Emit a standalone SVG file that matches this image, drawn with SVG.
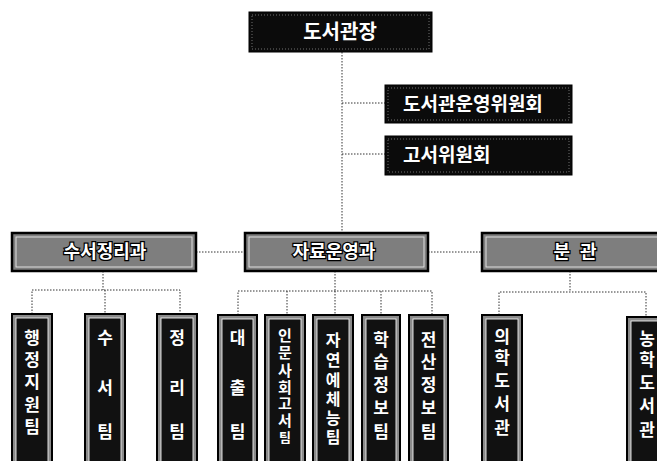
<svg xmlns="http://www.w3.org/2000/svg" width="657" height="461" viewBox="0 0 657 461">
<style>
.conn{stroke:#333;stroke-width:1;stroke-dasharray:1.5 1.5;fill:none}
.topbox{fill:#0b0b0b;stroke:#000;stroke-width:1}
.topin{fill:none;stroke:#8a8a8a;stroke-width:0.8;stroke-dasharray:1 2}
.toptxt{font-family:"Liberation Sans","Noto Sans CJK KR",sans-serif;font-weight:700;fill:#fff}
.midout{fill:#7e7e7e;stroke:#000;stroke-width:2.5}
.midin{fill:none;stroke:#e8e8e8;stroke-width:0.9}
.midtxt{font-family:"Liberation Sans","Noto Sans CJK KR",sans-serif;font-weight:700;font-size:18px;fill:#fff;stroke:#000;stroke-width:2.5;paint-order:stroke;text-anchor:middle}
.botout{fill:#8a8a8a;stroke:#000;stroke-width:2}
.botin{fill:#111;stroke:#f0f0f0;stroke-width:0.9}
.bottxt{font-family:"Liberation Sans","Noto Sans CJK KR",sans-serif;font-weight:700;fill:#fff;text-anchor:middle}
</style>

<g id="connectors">
  <line class="conn" x1="342" y1="52" x2="342" y2="233"/>
  <line class="conn" x1="342" y1="103" x2="385" y2="103"/>
  <line class="conn" x1="342" y1="154" x2="385" y2="154"/>
  <line class="conn" x1="196" y1="252" x2="245" y2="252"/>
  <line class="conn" x1="428" y1="252" x2="482" y2="252"/>
  <line class="conn" x1="103" y1="271" x2="103" y2="290"/>
  <polyline class="conn" points="32,314 32,290 180,290 180,314"/>
  <line class="conn" x1="105" y1="290" x2="105" y2="314"/>
  <line class="conn" x1="335" y1="271" x2="335" y2="291"/>
  <polyline class="conn" points="238,315 238,291 432,291 432,315"/>
  <line class="conn" x1="287" y1="291" x2="287" y2="315"/>
  <line class="conn" x1="335" y1="291" x2="335" y2="315"/>
  <line class="conn" x1="381" y1="291" x2="381" y2="315"/>
  <line class="conn" x1="570" y1="271" x2="570" y2="292"/>
  <polyline class="conn" points="499,315 499,292 646,292 646,317"/>
</g>

<g id="node-director">
  <rect class="topbox" x="249" y="12" width="183" height="40"/>
  <rect class="topin" x="252" y="15" width="177" height="34"/>
  <text class="toptxt" x="340" y="39" font-size="20" text-anchor="middle">도서관장</text>
</g>

<g id="node-committee1">
  <rect class="topbox" x="385" y="85" width="187" height="38"/>
  <rect class="topin" x="388" y="88" width="181" height="32"/>
  <text class="toptxt" x="403" y="111" font-size="19">도서관운영위원회</text>
</g>

<g id="node-committee2">
  <rect class="topbox" x="385" y="136" width="187" height="39"/>
  <rect class="topin" x="388" y="139" width="181" height="33"/>
  <text class="toptxt" x="403" y="162" font-size="19">고서위원회</text>
</g>

<g id="node-acq">
  <rect class="midout" x="12" y="233" width="184" height="38"/>
  <rect class="midin" x="16" y="237" width="176" height="30"/>
  <text class="midtxt" x="105" y="258">수서정리과</text>
</g>

<g id="node-ops">
  <rect class="midout" x="245" y="233" width="183" height="38"/>
  <rect class="midin" x="249" y="237" width="175" height="30"/>
  <text class="midtxt" x="334" y="258">자료운영과</text>
</g>

<g id="node-branch">
  <rect class="midout" x="482" y="233" width="185" height="38"/>
  <rect class="midin" x="486" y="237" width="177" height="30"/>
  <text class="midtxt" x="575" y="258" xml:space="preserve">분  관</text>
</g>

<g id="node-admin">
  <rect class="botout" x="12" y="314" width="40" height="155"/>
  <rect class="botin" x="16" y="318" width="32" height="150"/>
  <text class="bottxt" font-size="17"><tspan x="32" y="344">행</tspan><tspan x="32" y="366">정</tspan><tspan x="32" y="388">지</tspan><tspan x="32" y="411">원</tspan><tspan x="32" y="433">팀</tspan></text>
</g>

<g id="node-acqteam">
  <rect class="botout" x="85" y="314" width="40" height="155"/>
  <rect class="botin" x="89" y="318" width="32" height="150"/>
  <text class="bottxt" font-size="17"><tspan x="105" y="344">수</tspan><tspan x="105" y="394">서</tspan><tspan x="105" y="438">팀</tspan></text>
</g>

<g id="node-catteam">
  <rect class="botout" x="157" y="314" width="40" height="155"/>
  <rect class="botin" x="161" y="318" width="32" height="150"/>
  <text class="bottxt" font-size="17"><tspan x="177" y="344">정</tspan><tspan x="177" y="394">리</tspan><tspan x="177" y="438">팀</tspan></text>
</g>

<g id="node-loan">
  <rect class="botout" x="218" y="315" width="39" height="155"/>
  <rect class="botin" x="222" y="319" width="31" height="150"/>
  <text class="bottxt" font-size="17"><tspan x="237.5" y="344">대</tspan><tspan x="237.5" y="394">출</tspan><tspan x="237.5" y="438">팀</tspan></text>
</g>

<g id="node-humanities">
  <rect class="botout" x="265" y="315" width="40" height="155"/>
  <rect class="botin" x="269" y="319" width="32" height="150"/>
  <text class="bottxt" font-size="15"><tspan x="285" y="341">인</tspan><tspan x="285" y="358">문</tspan><tspan x="285" y="376">사</tspan><tspan x="285" y="393">회</tspan><tspan x="285" y="409">고</tspan><tspan x="285" y="426">서</tspan><tspan x="285" y="442" font-size="13">팀</tspan></text>
</g>

<g id="node-science">
  <rect class="botout" x="313" y="315" width="40" height="155"/>
  <rect class="botin" x="317" y="319" width="32" height="150"/>
  <text class="bottxt" font-size="16"><tspan x="333" y="346">자</tspan><tspan x="333" y="366">연</tspan><tspan x="333" y="386">예</tspan><tspan x="333" y="405">체</tspan><tspan x="333" y="424">능</tspan><tspan x="333" y="443">팀</tspan></text>
</g>

<g id="node-learning">
  <rect class="botout" x="362" y="315" width="38" height="155"/>
  <rect class="botin" x="366" y="319" width="30" height="150"/>
  <text class="bottxt" font-size="17"><tspan x="381" y="346">학</tspan><tspan x="381" y="368">습</tspan><tspan x="381" y="391">정</tspan><tspan x="381" y="414">보</tspan><tspan x="381" y="438">팀</tspan></text>
</g>

<g id="node-it">
  <rect class="botout" x="409" y="315" width="39" height="155"/>
  <rect class="botin" x="413" y="319" width="31" height="150"/>
  <text class="bottxt" font-size="17"><tspan x="428.5" y="346">전</tspan><tspan x="428.5" y="368">산</tspan><tspan x="428.5" y="391">정</tspan><tspan x="428.5" y="414">보</tspan><tspan x="428.5" y="438">팀</tspan></text>
</g>

<g id="node-medlib">
  <rect class="botout" x="482" y="315" width="40" height="155"/>
  <rect class="botin" x="486" y="319" width="32" height="150"/>
  <text class="bottxt" font-size="17"><tspan x="502" y="343">의</tspan><tspan x="502" y="364">학</tspan><tspan x="502" y="387">도</tspan><tspan x="502" y="410">서</tspan><tspan x="502" y="434">관</tspan></text>
</g>

<g id="node-agrlib">
  <rect class="botout" x="627" y="317" width="40" height="155"/>
  <rect class="botin" x="631" y="321" width="32" height="150"/>
  <text class="bottxt" font-size="17"><tspan x="647" y="345">농</tspan><tspan x="647" y="366">학</tspan><tspan x="647" y="389">도</tspan><tspan x="647" y="412">서</tspan><tspan x="647" y="436">관</tspan></text>
</g>
</svg>
